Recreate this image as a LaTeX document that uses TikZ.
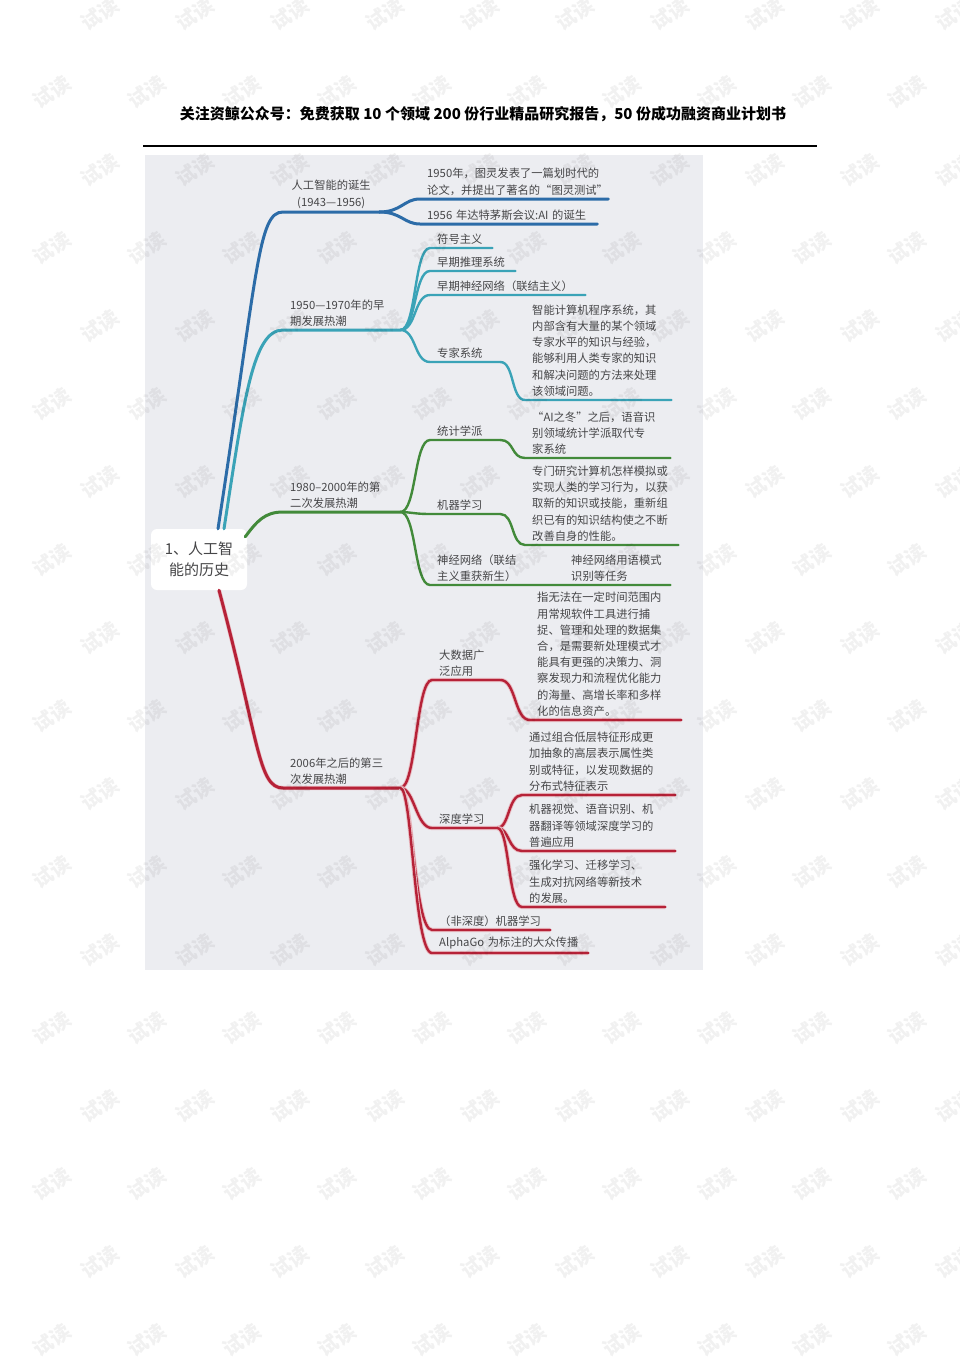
\documentclass[tikz,border=0pt]{standalone}
\usepackage{fontspec}
\setmainfont{Noto Sans CJK SC}
\usepackage{tikz}
\usetikzlibrary{positioning,calc}

\definecolor{panelgray}{RGB}{236,237,241}
\definecolor{textgray}{RGB}{70,70,72}
\definecolor{brblue}{RGB}{44,108,168}
\definecolor{brcyan}{RGB}{58,163,183}
\definecolor{brgreen}{RGB}{66,138,58}
\definecolor{brred}{RGB}{182,34,56}

\tikzset{
  topic/.style={anchor=south west, inner xsep=7pt, inner ysep=3.5pt, align=left,
    text=textgray, font=\fontsize{11.3}{16.2}\selectfont},
  rootbox/.style={fill=white, rounded corners=6pt, minimum width=96pt, minimum height=61pt,
    align=center, text=textgray, font=\fontsize{15}{21}\selectfont},
  trunk/.style={line width=3pt, line cap=round},
  twig/.style={line width=2.4pt, line cap=round},
  glow/.style={preaction={draw=brred!30, line width=4.2pt}},
  watermark/.style={rotate=35, text=black, text opacity=0.055, font=\bfseries\fontsize{20}{20}\selectfont},
}

\begin{document}
\begin{tikzpicture}[x=1pt,y=-1pt]
    \useasboundingbox (0,0) rectangle (960,1357);

    % header
    \node[font=\bfseries\fontsize{15}{16}\selectfont] (hdr) at (483,114)
        {关注资鲸公众号：免费获取~10~个领域~200~份行业精品研究报告，50~份成功融资商业计划书};
    \draw[line width=1.4pt] (143,146) -- (817,146);

    % panel
    \fill[panelgray] (145,155) rectangle (703,970);
    \node[rootbox] (root) at (199,559.5) {1、人工智\\能的历史};

    % blue branch
    \begin{scope}[brblue]
        \node[topic, align=center, text width=82pt] (birth) at (283,212) {人工智能的诞生\\(1943—1956)};
        \node[topic, text width=174pt] (turing) at (420,199) {1950年，图灵发表了一篇划时代的\\论文，并提出了著名的“图灵测试”};
        \node[topic, text width=163pt] (dartmouth) at (420,224) {1956 年达特茅斯会议:AI 的诞生};
        \draw[trunk] ($(root.north)+(19,0)$) .. controls +(40,-260) and +(-25,0) .. (birth.south west) -- (birth.south east);
        \draw[trunk] (birth.south east) .. controls +(22,0) and +(-16,0) .. (turing.south west) -- (turing.south east);
        \draw[trunk] (birth.south east) .. controls +(22,0) and +(-16,0) .. (dartmouth.south west) -- (dartmouth.south east);
    \end{scope}

    % cyan branch
    \begin{scope}[brcyan]
        \node[topic, text width=103pt] (early) at (283,330) {1950—1970年的早\\期发展热潮};
        \node[topic, text width=48pt] (symbol) at (430,248) {符号主义};
        \node[topic, text width=71pt] (reason) at (430,271) {早期推理系统};
        \node[topic, text width=141pt] (nnone) at (430,295) {早期神经网络（联结主义）};
        \node[topic, text width=56pt] (expert) at (430,362) {专家系统};
        \node[topic, text width=132pt] (expertd) at (525,400) {智能计算机程序系统，其\\内部含有大量的某个领域\\专家水平的知识与经验，\\能够利用人类专家的知识\\和解决问题的方法来处理\\该领域问题。};
        \draw[trunk] ($(root.north)+(25,0)$) .. controls +(20,-130) and +(-30,0) .. (early.south west) -- (early.south east);
        \draw[twig] (early.south east) .. controls +(16,0) and +(-16,0) .. (symbol.south west) -- (symbol.south east);
        \draw[twig] (early.south east) .. controls +(16,0) and +(-16,0) .. (reason.south west) -- (reason.south east);
        \draw[twig] (early.south east) .. controls +(16,0) and +(-16,0) .. (nnone.south west) -- (nnone.south east);
        \draw[twig] (early.south east) .. controls +(16,0) and +(-16,0) .. (expert.south west) -- (expert.south east);
        \draw[twig] (expert.south east) .. controls +(14,0) and +(-14,0) .. (expertd.south west) -- (expertd.south east);
    \end{scope}

    % green branch
    \begin{scope}[brgreen]
        \node[topic, text width=103pt] (second) at (283,512) {1980–2000年的第\\二次发展热潮};
        \node[topic, text width=56pt] (stat) at (430,440) {统计学派};
        \node[topic, text width=131pt] (statd) at (525,458) {“AI之冬”之后，语音识\\别领域统计学派取代专\\家系统};
        \node[topic, text width=56pt] (ml) at (430,514) {机器学习};
        \node[topic, text width=139pt] (mld) at (525,545) {专门研究计算机怎样模拟或\\实现人类的学习行为，以获\\取新的知识或技能，重新组\\织已有的知识结构使之不断\\改善自身的性能。};
        \node[topic, text width=120pt] (nntwo) at (430,585) {神经网络（联结\\主义重获新生）};
        \node[topic, text width=92pt] (nntwod) at (564,585) {神经网络用语模式\\识别等任务};
        \draw[trunk] ($(root.north east)+(-2,8)$) .. controls +(12,-16) and +(-18,0) .. (second.south west) -- (second.south east);
        \draw[twig] (second.south east) .. controls +(16,0) and +(-16,0) .. (stat.south west) -- (stat.south east);
        \draw[twig] (stat.south east) .. controls +(14,0) and +(-14,0) .. (statd.south west) -- (statd.south east);
        \draw[twig] (second.south east) .. controls +(10,0) and +(-16,0) .. (ml.south west) -- (ml.south east);
        \draw[twig] (ml.south east) .. controls +(14,0) and +(-14,0) .. (mld.south west) -- (mld.south east);
        \draw[twig] (second.south east) .. controls +(16,0) and +(-16,0) .. (nntwo.south west) -- (nntwo.south east) -- (nntwod.south east);
    \end{scope}

    % red branch
    \begin{scope}[brred]
        \node[topic, text width=103pt] (third) at (283,788) {2006年之后的第三\\次发展热潮};
        \node[topic, text width=54pt] (bigdata) at (432,680) {大数据广\\泛应用};
        \node[topic, text width=137pt] (bigdatad) at (530,720) {指无法在一定时间范围内\\用常规软件工具进行捕\\捉、管理和处理的数据集\\合，是需要新处理模式才\\能具有更强的决策力、洞\\察发现力和流程优化能力\\的海量、高增长率和多样\\化的信息资产。};
        \node[topic, text width=51pt] (deep) at (432,828) {深度学习};
        \node[topic, text width=139pt] (deepa) at (522,795) {通过组合低层特征形成更\\加抽象的高层表示属性类\\别或特征，以发现数据的\\分布式特征表示};
        \node[topic, text width=139pt] (deepb) at (522,851) {机器视觉、语音识别、机\\器翻译等领域深度学习的\\普遍应用};
        \node[topic, text width=129pt] (deepc) at (522,907) {强化学习、迁移学习、\\生成对抗网络等新技术\\的发展。};
        \node[topic, text width=104pt] (nondeep) at (432,930) {（非深度）机器学习};
        \node[topic, text width=142pt] (alphago) at (432,953) {AlphaGo 为标注的大众传播};
        \draw[trunk, glow] ($(root.south)+(20,0)$) .. controls +(40,150) and +(-25,0) .. (third.south west) -- (third.south east);
        \draw[twig, glow] (third.south east) .. controls +(16,0) and +(-16,0) .. (bigdata.south west) -- (bigdata.south east);
        \draw[twig, glow] (bigdata.south east) .. controls +(16,0) and +(-16,0) .. (bigdatad.south west) -- (bigdatad.south east);
        \draw[twig, glow] (third.south east) .. controls +(14,0) and +(-16,0) .. (deep.south west) -- (deep.south east);
        \draw[twig, glow] (deep.south east) .. controls +(12,0) and +(-14,0) .. (deepa.south west) -- (deepa.south east);
        \draw[twig, glow] (deep.south east) .. controls +(12,0) and +(-14,0) .. (deepb.south west) -- (deepb.south east);
        \draw[twig, glow] (deep.south east) .. controls +(12,0) and +(-14,0) .. (deepc.south west) -- (deepc.south east);
        \draw[twig, glow] (third.south east) .. controls +(12,0) and +(-18,0) .. (nondeep.south west) -- (nondeep.south east);
        \draw[twig, glow] (third.south east) .. controls +(12,0) and +(-18,0) .. (alphago.south west) -- (alphago.south east);
    \end{scope}

    % watermark
    \foreach \r in {0,...,17}{
        \foreach \c in {0,...,9}{
            \node[watermark] (wm-\r-\c) at ({100+95*\c-48*mod(\r,2)},{14+78*\r}) {试读};
        }
    }
\end{tikzpicture}
\end{document}
